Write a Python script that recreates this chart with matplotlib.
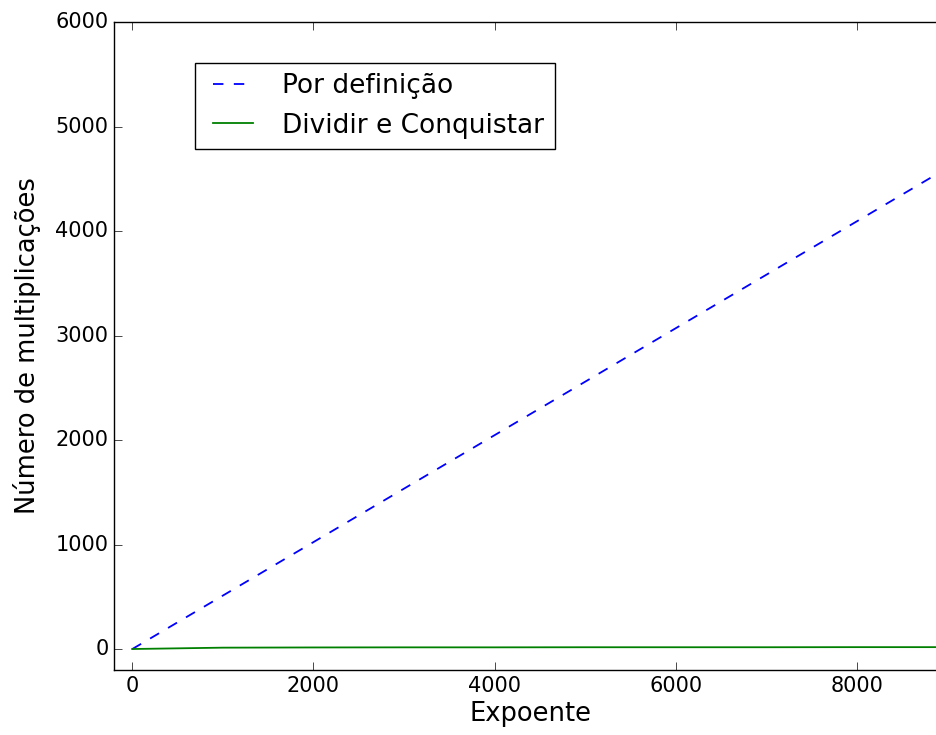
import numpy as np
import matplotlib
matplotlib.use("Agg")
import matplotlib.pyplot as plt

plt.style.use('classic')

# expoentes e numero de multiplicacoes
expoentes = [0, 1000, 2000, 3000, 4000, 5000, 6000, 7000, 8000, 9000, 10000]
por_definicao = [0, 512, 1024, 1536, 2048, 2560, 3072, 3584, 4096, 4608, 5120]
dividir_conquistar = [1, 14, 16, 17, 17, 18, 18, 18, 19, 19, 19]

fig = plt.figure(figsize=(9.37, 7.35), dpi=100)
fig.patch.set_facecolor('white')
# eixo um pouco maior que a figura (imagem cortada a direita)
ax = fig.add_axes([0.1217, 0.0884, 0.890, 0.8816])

ax.plot(expoentes, por_definicao, 'b--', lw=1.3, dashes=(7.5, 7.5), label='Por definição')
ax.plot(expoentes, dividir_conquistar, 'g-', lw=1.3, label='Dividir e Conquistar')

ax.set_xlim(-200, 9000)
ax.set_ylim(-200, 6000)
ax.set_xticks([0, 2000, 4000, 6000, 8000])
ax.set_yticks([0, 1000, 2000, 3000, 4000, 5000, 6000])
ax.tick_params(labelsize=15, length=6)

ax.set_xlabel('Expoente', fontsize=18.5, labelpad=4)
ax.set_ylabel('Número de multiplicações', fontsize=18.5, labelpad=10)

ax.legend(loc='upper left', bbox_to_anchor=(0.0971, 0.937), borderaxespad=0,
          fontsize=19, handlelength=2.1, frameon=True, fancybox=False)

fig.savefig('out.png', dpi=100, facecolor='white')
